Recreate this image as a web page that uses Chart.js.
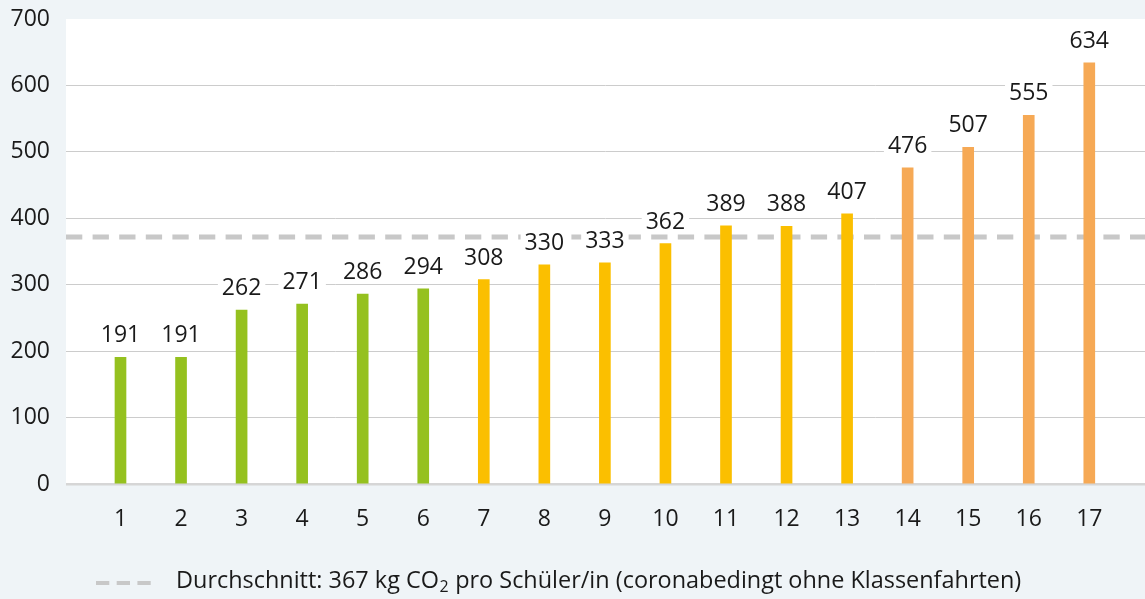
<!DOCTYPE html>
<html lang="de">
<head>
<meta charset="utf-8">
<title>CO2 pro Schüler/in</title>
<script src="https://cdn.jsdelivr.net/npm/chart.js@4.4.1/dist/chart.umd.min.js"></script>
<style>
  html, body { margin: 0; padding: 0; background: #eff4f7; }
  #wrap { position: relative; width: 1145px; height: 599px; }
</style>
</head>
<body>
<div id="wrap"><canvas id="co2Chart"></canvas></div>
<script>
// Schulen, sortiert nach kg CO2 pro Schüler/in
const schools = [1, 2, 3, 4, 5, 6, 7, 8, 9, 10, 11, 12, 13, 14, 15, 16, 17];
const co2PerPupil = [191, 191, 262, 271, 286, 294, 308, 330, 333, 362, 389, 388, 407, 476, 507, 555, 634];
const ratingGroup = ['low', 'low', 'low', 'low', 'low', 'low',
                     'mid', 'mid', 'mid', 'mid', 'mid', 'mid', 'mid',
                     'high', 'high', 'high', 'high'];
const yTicks = [0, 100, 200, 300, 400, 500, 600, 700];
const averageLine = 372; // where the dashed line sits in the picture
const legendParts = ['Durchschnitt: 367 kg CO', '2', ' pro Schüler/in (coronabedingt ohne Klassenfahrten)'];

const groupColor = { low: '#95c11f', mid: '#fbbf00', high: '#f6a955' };
const FONT = '"Open Sans", Lato, sans-serif';

// x range reaches a bit past the first/last school like the original
const X_MIN = 0.1;
const X_MAX = 17.92;

Chart.defaults.font.family = FONT;
Chart.defaults.font.size = 23;
Chart.defaults.color = '#1a1a1a';

// white plot area on the light blue page
const plotBackground = {
    id: 'plotBackground',
    beforeDraw(chart) {
        const { ctx, chartArea: a } = chart;
        ctx.save();
        ctx.fillStyle = '#ffffff';
        ctx.fillRect(a.left, a.top, a.right - a.left, a.bottom - a.top);
        ctx.restore();
    }
};

// value labels above every bar, on a white patch so the dashed line breaks
const valueLabels = {
    id: 'valueLabels',
    afterDatasetsDraw(chart) {
        const { ctx } = chart;
        const meta = chart.getDatasetMeta(0);
        ctx.save();
        ctx.font = '23px ' + FONT;
        ctx.textAlign = 'center';
        ctx.textBaseline = 'alphabetic';
        meta.data.forEach((bar, i) => {
            const txt = String(co2PerPupil[i]);
            const w = ctx.measureText(txt).width;
            const base = bar.y - 15;
            ctx.fillStyle = '#ffffff';
            ctx.fillRect(bar.x - w / 2 - 4, base - 17, w + 8, 18);
            ctx.fillStyle = '#1a1a1a';
            ctx.fillText(txt, bar.x, base);
        });
        ctx.restore();
    }
};

// legend at the bottom: dashed sample + text with subscript 2
const averageLegend = {
    id: 'averageLegend',
    afterDraw(chart) {
        const { ctx } = chart;
        ctx.save();
        ctx.strokeStyle = '#c8c8c8';
        ctx.lineWidth = 4;
        ctx.setLineDash([13.3, 7.4]);
        ctx.beginPath();
        ctx.moveTo(96, 583);
        ctx.lineTo(151, 583);
        ctx.stroke();
        ctx.setLineDash([]);

        // fit the text to the width it takes in the original (176 → 1022)
        const big = s => s + 'px ' + FONT;
        let size = 22;
        const widthAt = sz => {
            ctx.font = big(sz);
            let w = ctx.measureText(legendParts[0]).width + ctx.measureText(legendParts[2]).width;
            ctx.font = big(sz * 0.68);
            return w + ctx.measureText(legendParts[1]).width + 1;
        };
        size = Math.max(19, Math.min(24, size * 846 / widthAt(size)));

        ctx.fillStyle = '#1a1a1a';
        ctx.textBaseline = 'alphabetic';
        ctx.textAlign = 'left';
        let x = 176;
        const y = 588;
        ctx.font = big(size);
        ctx.fillText(legendParts[0], x, y);
        x += ctx.measureText(legendParts[0]).width + 0.5;
        ctx.font = big(size * 0.68);
        ctx.fillText(legendParts[1], x, y + 4);
        x += ctx.measureText(legendParts[1]).width + 0.5;
        ctx.font = big(size);
        ctx.fillText(legendParts[2], x, y);
        ctx.restore();
    }
};

const ctx = document.getElementById('co2Chart').getContext('2d');
new Chart(ctx, {
    type: 'bar',
    data: {
        datasets: [{
            type: 'bar',
            label: 'kg CO2 pro Schüler/in',
            data: schools.map((s, i) => ({ x: s, y: co2PerPupil[i] })),
            backgroundColor: ratingGroup.map(g => groupColor[g]),
            borderWidth: 0,
            barThickness: 11,
            order: 1
        }, {
            type: 'line',
            label: 'Durchschnitt',
            data: [{ x: X_MIN, y: averageLine }, { x: X_MAX, y: averageLine }],
            borderColor: '#c8c8c8',
            borderWidth: 5,
            borderDash: [16.3, 10.3],
            borderCapStyle: 'butt',
            pointRadius: 0,
            tension: 0,
            order: 2
        }]
    },
    options: {
        responsive: true,
        maintainAspectRatio: false,
        devicePixelRatio: 1,
        animation: false,
        layout: { padding: { top: 19, left: 0, right: 0, bottom: 0 } },
        scales: {
            x: {
                type: 'linear',
                min: X_MIN,
                max: X_MAX,
                offset: false,
                grid: { display: false },
                border: { display: false },
                afterBuildTicks(axis) {
                    axis.ticks = schools.map(v => ({ value: v }));
                },
                afterFit(axis) {
                    axis.height = 114.7;
                    axis.paddingLeft = 0;
                    axis.paddingRight = 0;
                },
                ticks: {
                    padding: 13,
                    maxRotation: 0,
                    autoSkip: false,
                    callback: v => String(v)
                }
            },
            y: {
                min: 0,
                max: 700,
                afterBuildTicks(axis) {
                    axis.ticks = yTicks.map(v => ({ value: v }));
                },
                afterFit(axis) {
                    axis.width = 66;
                    axis.paddingTop = 0;
                    axis.paddingBottom = 0;
                },
                border: { display: false },
                grid: {
                    drawTicks: false,
                    color: c => c.tick.value === 700 ? 'rgba(0,0,0,0)' : (c.tick.value === 0 ? '#d6d6d6' : '#cccccc'),
                    lineWidth: c => c.tick.value === 0 ? 2.5 : 1
                },
                ticks: { padding: 16 }
            }
        },
        plugins: {
            legend: { display: false },
            tooltip: { enabled: false }
        }
    },
    plugins: [plotBackground, valueLabels, averageLegend]
});
</script>
</body>
</html>
